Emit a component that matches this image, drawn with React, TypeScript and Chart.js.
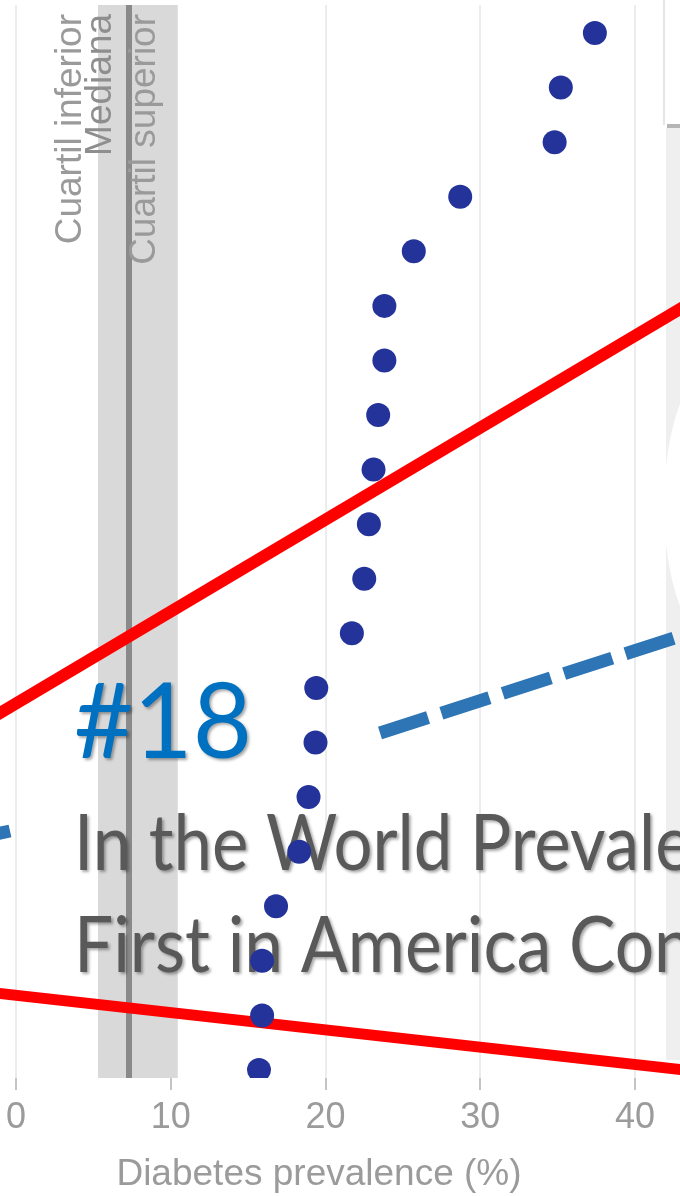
import { useEffect, useRef } from "react";
import { Chart, registerables } from "chart.js";

Chart.register(...registerables);

// ---- data ----
const prevalence = [
  37.4, 35.2, 34.8, 28.7, 25.7, 23.8, 23.8, 23.4, 23.1, 22.8,
  22.5, 21.7, 19.4, 19.35, 18.9, 18.3, 16.8, 15.9, 15.9, 15.7,
];
const rowIndex = [0, 1, 2, 3, 4, 5, 6, 7, 8, 9, 10, 11, 12, 13, 14, 15, 16, 17, 18, 19];
const xTicks = [0, 10, 20, 30, 40];
const lowerQuartile = 5.3;
const median = 7.3;
const upperQuartile = 10.45;
const quartileLabels = ["Cuartil inferior", "Mediana", "Cuartil superior"];
const axisTitle = "Diabetes prevalence (%)";
const rankText = "#18";
const captionLines = ["In the World Prevalence", "First in America Continent"];

const SANS = '"Liberation Sans", Arial, sans-serif';
const CAL = 'Lato, "Open Sans", sans-serif';

function fitted(
  ctx: CanvasRenderingContext2D,
  text: string,
  prefix: string,
  prefixWidth: number,
  x: number,
  y: number,
  font: string,
  color: string
) {
  ctx.save();
  ctx.font = font;
  const w = ctx.measureText(prefix).width;
  const sx = prefixWidth / w;
  ctx.fillStyle = color;
  ctx.textBaseline = "alphabetic";
  ctx.textAlign = "left";
  ctx.shadowColor = "rgba(0,0,0,0.35)";
  ctx.shadowOffsetX = 2;
  ctx.shadowOffsetY = 2;
  ctx.shadowBlur = 3;
  ctx.translate(x, y);
  ctx.scale(sx, 1);
  ctx.fillText(text, 0, 0);
  ctx.restore();
}

const overlayPlugin = {
  id: "overlay",
  beforeDatasetsDraw(chart: any) {
    const ctx: CanvasRenderingContext2D = chart.ctx;
    const xs = chart.scales.x;
    const { top, bottom } = chart.chartArea;
    ctx.save();

    // quartile band + median line
    const xl = xs.getPixelForValue(lowerQuartile);
    const xu = xs.getPixelForValue(upperQuartile);
    const xm = xs.getPixelForValue(median);
    ctx.fillStyle = "#d9d9d9";
    ctx.fillRect(xl, top, xu - xl, bottom - top);
    ctx.fillStyle = "#8a8a8a";
    ctx.fillRect(xm - 3, top, 6, bottom - top);

    // rotated quartile labels
    const anchors = [xl - 17, xm - 18, xu - 23];
    const colors = ["#9a9a9a", "#8e8e8e", "#9a9a9a"];
    quartileLabels.forEach((t, i) => {
      ctx.save();
      ctx.translate(anchors[i], top + 9);
      ctx.rotate(-Math.PI / 2);
      ctx.font = `37px ${SANS}`;
      ctx.fillStyle = colors[i];
      ctx.textAlign = "right";
      ctx.textBaseline = "alphabetic";
      ctx.fillText(t, 0, 0);
      ctx.restore();
    });

    // axis title
    ctx.font = `37px ${SANS}`;
    ctx.fillStyle = "#9b9b9b";
    ctx.textAlign = "center";
    ctx.textBaseline = "middle";
    ctx.fillText(axisTitle, 319, 1175);

    // right-hand panel of the slide
    ctx.strokeStyle = "#e6e6e6";
    ctx.lineWidth = 2;
    ctx.beginPath();
    ctx.moveTo(664, 0);
    ctx.lineTo(664, 125);
    ctx.stroke();
    ctx.fillStyle = "#b5b5b5";
    ctx.fillRect(667, 124, 13, 4);
    ctx.fillStyle = "#efefef";
    ctx.fillRect(666, 128, 14, 932);
    ctx.fillStyle = "#ffffff";
    ctx.beginPath();
    ctx.ellipse(716, 505, 52, 140, 0, 0, Math.PI * 2);
    ctx.fill();

    // red lines
    ctx.strokeStyle = "#ff0000";
    ctx.lineCap = "butt";
    ctx.lineWidth = 12;
    ctx.beginPath();
    ctx.moveTo(-5, 716);
    ctx.lineTo(685, 306);
    ctx.stroke();
    ctx.lineWidth = 11;
    ctx.beginPath();
    ctx.moveTo(-5, 993);
    ctx.lineTo(685, 1070);
    ctx.stroke();

    // blue dashed lines
    ctx.strokeStyle = "#2e75b6";
    ctx.lineWidth = 13;
    ctx.setLineDash([50.5, 14]);
    ctx.beginPath();
    ctx.moveTo(380, 733);
    ctx.lineTo(690, 633);
    ctx.stroke();
    ctx.setLineDash([]);
    ctx.beginPath();
    ctx.moveTo(-40, 842);
    ctx.lineTo(10, 831);
    ctx.stroke();

    // headline texts
    fitted(ctx, rankText, rankText, 178, 74, 758, `105px ${CAL}`, "#0070c0");
    fitted(ctx, captionLines[0], "In the World ", 396, 74, 870, `77px ${CAL}`, "#595959");
    fitted(ctx, captionLines[1], "First in America ", 495, 74, 972, `77px ${CAL}`, "#595959");

    ctx.restore();
  },
};

export default function App() {
  const ref = useRef<HTMLCanvasElement | null>(null);
  useEffect(() => {
    document.body.style.margin = "0";
    const canvas = ref.current!;
    const chart = new Chart(canvas, {
      type: "scatter",
      data: {
        datasets: [
          {
            data: prevalence.map((v, i) => ({ x: v, y: rowIndex[i] })),
            backgroundColor: "#24339a",
            borderWidth: 0,
            pointRadius: 12,
            pointHoverRadius: 12,
            clip: 0,
          } as any,
        ],
      },
      options: {
        responsive: false,
        animation: false,
        events: [],
        layout: { autoPadding: false, padding: { top: 5, left: 15, right: 0, bottom: 50.8 } },
        plugins: { legend: { display: false }, tooltip: { enabled: false } },
        scales: {
          x: {
            type: "linear",
            min: 0,
            max: 42.9,
            afterBuildTicks: (s: any) => {
              s.ticks = xTicks.map((v) => ({ value: v }));
            },
            ticks: {
              font: { family: SANS, size: 36 },
              color: "#9b9b9b",
              padding: 6,
              includeBounds: false,
            },
            grid: {
              color: "#ececec",
              lineWidth: 2,
              tickLength: 12,
              tickColor: "#c4c4c4",
              tickWidth: 2,
            },
            border: { display: false },
          },
          y: {
            type: "linear",
            display: false,
            reverse: true,
            min: -0.513,
            max: 19.147,
          },
        },
      } as any,
      plugins: [overlayPlugin],
    });
    return () => chart.destroy();
  }, []);
  return (
    <canvas
      ref={ref}
      width={680}
      height={1196}
      style={{ display: "block", width: 680, height: 1196 }}
    />
  );
}
